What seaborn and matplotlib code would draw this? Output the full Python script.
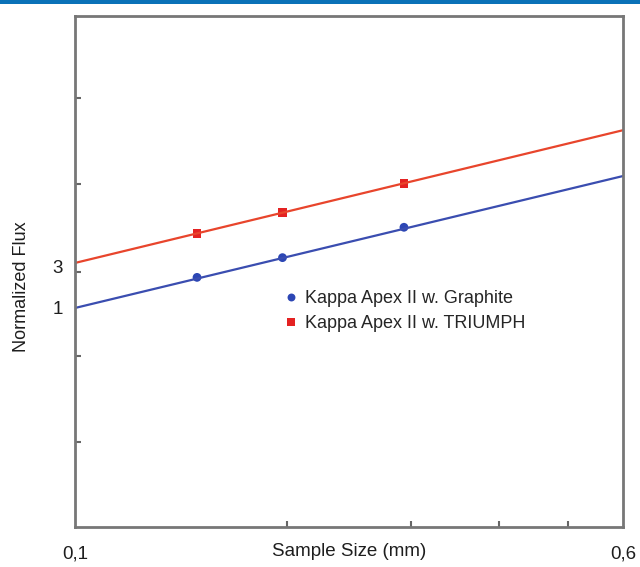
import matplotlib
matplotlib.use("Agg")
import matplotlib.pyplot as plt
import seaborn as sns
import pandas as pd
from matplotlib.patches import Rectangle
from matplotlib.ticker import FixedLocator, NullFormatter, FixedFormatter

# values (log-log plot)
size_line = [0.1, 0.6]
graphite_line = [1.0, 34.3]
triumph_line = [3.34, 117.0]

size_pts = [0.149, 0.197, 0.293]
graphite_pts = [2.27, 3.85, 8.68]
triumph_pts = [7.39, 12.8, 28.2]

x_ticks = [0.1, 0.6]
x_ticklabels = ["0,1", "0,6"]
x_minor = [0.2, 0.3, 0.4, 0.5]
y_ticks = [1, 3]
y_ticklabels = ["1", "3"]
y_minor = [0.0275, 0.275, 2.65, 27.5, 275]

lbl_graphite = "Kappa Apex II w. Graphite"
lbl_triumph = "Kappa Apex II w. TRIUMPH"

sns.set_style("white")
plt.rcParams['font.family'] = ['Liberation Sans', 'DejaVu Sans']

fig = plt.figure(figsize=(6.4, 5.67), dpi=100)
ax = fig.add_axes([75 / 640, 1 - 527 / 567, 548.3 / 640, 511 / 567])

lines = pd.DataFrame({"size": size_line * 2,
                      "flux": graphite_line + triumph_line,
                      "series": [lbl_graphite] * 2 + [lbl_triumph] * 2})
pts = pd.DataFrame({"size": size_pts * 2,
                    "flux": graphite_pts + triumph_pts,
                    "series": [lbl_graphite] * 3 + [lbl_triumph] * 3})

pal = {lbl_graphite: "#3a4db0", lbl_triumph: "#e8452c"}
mpal = {lbl_graphite: "#2c46b4", lbl_triumph: "#e42222"}

sns.lineplot(data=lines, x="size", y="flux", hue="series", palette=pal,
             linewidth=1.6, legend=False, ax=ax)
sns.scatterplot(data=pts, x="size", y="flux", hue="series", style="series",
                markers={lbl_graphite: "o", lbl_triumph: "s"},
                palette=mpal, s=40, linewidth=0, ax=ax)

ax.set_xscale("log")
ax.set_yscale("log")
ax.set_xlim(0.1, 0.6)
ax.set_ylim(0.00284, 2485)

ax.xaxis.set_major_locator(FixedLocator(x_ticks))
ax.xaxis.set_major_formatter(FixedFormatter(x_ticklabels))
ax.xaxis.set_minor_locator(FixedLocator(x_minor))
ax.xaxis.set_minor_formatter(NullFormatter())
ax.yaxis.set_major_locator(FixedLocator(y_ticks))
ax.yaxis.set_major_formatter(FixedFormatter(y_ticklabels))
ax.yaxis.set_minor_locator(FixedLocator(y_minor))
ax.yaxis.set_minor_formatter(NullFormatter())

ax.tick_params(axis="x", which="major", length=0, pad=13, labelsize=13.5, colors="#1e1e1e")
ax.tick_params(axis="y", which="major", length=0, pad=9, labelsize=13.5, colors="#1e1e1e")
ax.tick_params(which="minor", direction="in", length=4, width=1.5, color="#666666",
               bottom=True, left=True)

for sp in ax.spines.values():
    sp.set_color("#777777")
    sp.set_linewidth(2)

ax.set_xlabel("Sample Size (mm)", fontsize=13.5, color="#1e1e1e")
ax.xaxis.set_label_coords(0.5, -0.032, transform=ax.transAxes)
ax.xaxis.label.set_va("top")
ax.set_ylabel("Normalized Flux", fontsize=13, color="#1e1e1e")
ax.yaxis.set_label_coords(-0.082, 0.47)

handles, labels = ax.get_legend_handles_labels()
ax.legend(handles=handles, labels=labels, loc="center left",
          bbox_to_anchor=(0.365, 0.422), frameon=False, fontsize=13,
          handlelength=0.8, handletextpad=0.35, borderpad=0, labelspacing=0.45,
          markerscale=0.9)

fig.add_artist(Rectangle((0, 1 - 4 / 567), 1, 4 / 567, transform=fig.transFigure,
                         color="#0a72b8", lw=0))

fig.savefig("out.png", dpi=100)
